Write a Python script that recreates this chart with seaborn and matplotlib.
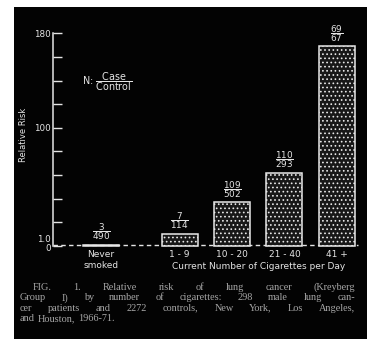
import matplotlib
matplotlib.use("Agg")
import matplotlib.pyplot as plt
import seaborn as sns
import pandas as pd
from matplotlib.patches import Rectangle

# ---------------- data ----------------
categories = ["Never\nsmoked", "1 - 9", "10 - 20", "21 - 40", "41 +"]
positions = [0.0, 1.5, 2.5, 3.5, 4.5]
relative_risk = [1.0, 10.5, 37.0, 62.0, 169.0]
cases = [3, 7, 109, 110, 69]
controls = [490, 114, 502, 293, 67]
ytick_values = [0, 20, 40, 60, 80, 100, 120, 140, 160, 180]
ytick_labels = ["", "", "", "", "", "100", "", "", "", "180"]
xlabel_text = "Current Number of Cigarettes per Day"
ylabel_text = "Relative Risk"
caption_lines = [
    "FIG. 1. Relative risk of lung cancer (Kreyberg",
    "Group I) by number of cigarettes: 298 male lung can-",
    "cer patients and 2272 controls, New York, Los Angeles,",
    "and Houston, 1966-71.",
]

df = pd.DataFrame({"pos": positions, "rr": relative_risk, "cat": categories})

# ---------------- style ----------------
sns.set_style("white")
plt.rcParams["font.family"] = ["DejaVu Sans"]
plt.rcParams["mathtext.fontset"] = "dejavusans"
plt.rcParams["hatch.linewidth"] = 0.7

W, H = 367, 339
fig = plt.figure(figsize=(W / 100, H / 100), dpi=100)
fig.patch.set_facecolor("white")
fig.patches.append(Rectangle((14 / W, 0), 1 - 14 / W, 1 - 7 / H,
                             transform=fig.transFigure, facecolor="#030303",
                             edgecolor="none", zorder=-10))

TXT = "#e4e4e4"
ax = fig.add_axes([53 / W, 1 - 246 / H, (358 - 53) / W, (246 - 33.3) / H])
ax.set_facecolor("none")
ax.set_zorder(5)

sns.barplot(data=df, x="pos", y="rr", native_scale=True, width=0.69,
            color="#111111", errorbar=None, ax=ax, zorder=3)
for p in ax.patches:
    p.set_facecolor("#181818")
    p.set_edgecolor("#e8e8e8")
    p.set_linewidth(1.1)
    p.set_hatch("....")
    p.set_clip_on(False)

ax.set_xlim(-0.916, 4.905)
ax.set_ylim(0, 180)

# dashed reference line at relative risk 1.0
ax.axhline(1.0, color=TXT, lw=1.0, dashes=(3.2, 2.4), zorder=1, clip_on=False)

# axes decoration
for s in ["top", "right", "bottom"]:
    ax.spines[s].set_visible(False)
ax.spines["left"].set_color(TXT)
ax.spines["left"].set_linewidth(1.1)
ax.spines["left"].set_bounds(0, 180)
ax.set_yticks(ytick_values)
ax.set_yticklabels(ytick_labels)
ax.tick_params(axis="y", left=True, direction="in", length=6.5, width=1.0,
               color=TXT, labelcolor=TXT, labelsize=6.3, pad=1.5)
ax.set_xticks(positions)
ax.set_xticklabels(categories)
ax.tick_params(axis="x", bottom=False, length=0, labelcolor=TXT,
               labelsize=6.5, pad=3)
ax.set_xlabel("")
ax.set_ylabel("")

# "1.0" and "0" labels at the bottom of the axis
ax.annotate("1.0", xy=(0, 1.0), xycoords=("axes fraction", "data"),
            xytext=(-1.5, 3.9), textcoords="offset points", ha="right",
            va="center", color=TXT, fontsize=6.3)
ax.annotate("0", xy=(0, 0), xycoords=("axes fraction", "data"),
            xytext=(-1.5, -1.6), textcoords="offset points", ha="right",
            va="center", color=TXT, fontsize=6.3)

# case / control fractions above bars
for x, h, c, k in zip(positions, relative_risk, cases, controls):
    ax.annotate(r"$\dfrac{%d}{%d}$" % (c, k), xy=(x, h), xytext=(0, 1.8),
                textcoords="offset points", ha="center", va="bottom",
                color=TXT, fontsize=6.4, annotation_clip=False)

# legend-like key
ax.text((82 - 53) / (358 - 53), 1 - (82 - 33.3) / (246 - 33.3),
        r"N: $\dfrac{\mathrm{Case}}{\mathrm{Control}}$",
        transform=ax.transAxes, ha="left", va="center", color=TXT, fontsize=6.9)

# x-axis title
ax.text(3.0, -(266.7 - 246) / (246 - 33.3), xlabel_text,
        transform=ax.get_xaxis_transform(),
        ha="center", va="center", color=TXT, fontsize=6.5)

# y-axis title
fig.text(23 / W, 1 - 134.5 / H, ylabel_text, rotation=90, ha="center",
         va="center", color=TXT, fontsize=6.0)

# caption, justified word by word
renderer = fig.canvas.get_renderer()
CAP_FS = 7.4
CAP_FAM = ["Liberation Serif", "DejaVu Serif"]
cap_y = [287.5, 297.8, 308.1, 318.4]
cap_x0 = [33, 20, 20, 20]
cap_x1 = 355
for i, line in enumerate(caption_lines):
    words = line.split(" ")
    objs, widths = [], []
    for w in words:
        t = fig.text(0, 1 - cap_y[i] / H, w, ha="left", va="center",
                     color="#a6a6a6", fontsize=CAP_FS, family=CAP_FAM)
        objs.append(t)
        widths.append(t.get_window_extent(renderer).width)
    if i < len(caption_lines) - 1:
        gap = (cap_x1 - cap_x0[i] - sum(widths)) / (len(words) - 1)
    else:
        gap = 2.8
    x = cap_x0[i]
    for t, wd in zip(objs, widths):
        t.set_x(x / W)
        x += wd + gap

fig.savefig("out.png", dpi=100, facecolor=fig.get_facecolor())
